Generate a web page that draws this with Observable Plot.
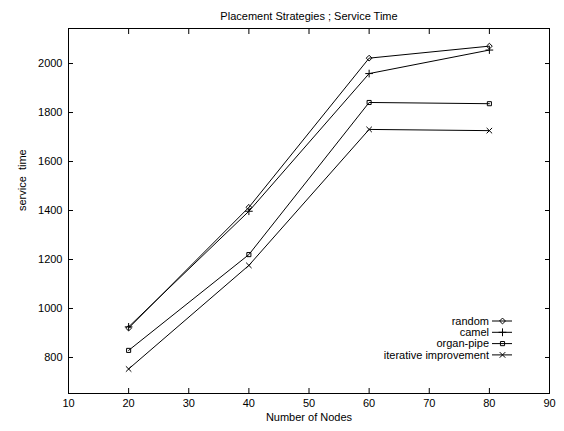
<!DOCTYPE html>
<html>
<head>
<meta charset="utf-8">
<script src="https://cdn.jsdelivr.net/npm/d3@7"></script>
<script src="https://cdn.jsdelivr.net/npm/@observablehq/plot@0.6"></script>
<style>
  html, body { margin: 0; padding: 0; background: #fff; }
</style>
</head>
<body>
<div id="chart"></div>
<script>
const nodes = [20, 40, 60, 80];
const seriesNames = ["random", "camel", "organ-pipe", "iterative improvement"];
const randomVals = [920, 1413, 2022, 2071];
const camelVals = [925, 1397, 1959, 2055];
const organPipeVals = [829, 1220, 1841, 1836];
const iterativeVals = [753, 1176, 1731, 1726];
const xTicks = [10, 20, 30, 40, 50, 60, 70, 80, 90];
const yTicks = [800, 1000, 1200, 1400, 1600, 1800, 2000];
const symbols = ["diamond2", "plus", "square2", "times"];
const titleText = "Placement Strategies ; Service Time";

const allVals = [randomVals, camelVals, organPipeVals, iterativeVals];
const data = [];
seriesNames.forEach((s, i) => nodes.forEach((n, j) => data.push({series: s, nodes: n, value: allVals[i][j]})));

const font = "'Liberation Sans', Arial, Helvetica, sans-serif";
const fmt = d3.format("d");

const plot = Plot.plot({
  width: 564,
  height: 431,
  marginLeft: 68,
  marginRight: 15,
  marginTop: 28,
  marginBottom: 38,
  style: {fontFamily: font, fontSize: "11px", color: "#000", background: "#fff", overflow: "visible"},
  x: {domain: [10, 90]},
  y: {domain: [653, 2143]},
  symbol: {domain: seriesNames, range: symbols},
  marks: [
    Plot.frame({stroke: "#000", strokeWidth: 1}),
    Plot.axisX({anchor: "bottom", ticks: xTicks, tickSize: -5, tickPadding: 11, tickFormat: fmt, label: null, fontSize: 11}),
    Plot.axisX({anchor: "top", ticks: xTicks, tickSize: -5, tickFormat: () => "", label: null}),
    Plot.axisY({anchor: "left", ticks: yTicks, tickSize: -5, tickPadding: 11, tickFormat: fmt, label: null, fontSize: 11}),
    Plot.axisY({anchor: "right", ticks: yTicks, tickSize: -5, tickFormat: () => "", label: null}),
    Plot.text(["Number of Nodes"], {frameAnchor: "bottom", dy: 27, fontSize: 11}),
    Plot.text(["service  time"], {frameAnchor: "left", dx: -46, rotate: -90, fontSize: 11}),
    Plot.text([titleText], {frameAnchor: "top", dy: -16, fontSize: 11}),
    Plot.line(data, {x: "nodes", y: "value", z: "series", stroke: "#000", strokeWidth: 1}),
    Plot.dot(data, {x: "nodes", y: "value", symbol: "series", stroke: "#000", fill: "none", r: 2.6, strokeWidth: 1})
  ]
});

document.getElementById("chart").appendChild(plot);

// Legend inside plot area
const svg = d3.select(plot);
const lg = svg.append("g").attr("font-family", font).attr("font-size", 11);
const symMap = {diamond2: d3.symbolDiamond2, plus: d3.symbolPlus, square2: d3.symbolSquare2, times: d3.symbolTimes};
seriesNames.forEach((s, i) => {
  const yy = 321 + i * 11.3;
  lg.append("text").attr("x", 489).attr("y", yy).attr("dy", "0.35em").attr("text-anchor", "end").text(s);
  lg.append("line").attr("x1", 492).attr("x2", 512).attr("y1", yy).attr("y2", yy).attr("stroke", "#000");
  lg.append("path").attr("transform", `translate(502.5,${yy})`)
    .attr("d", d3.symbol(symMap[symbols[i]], 22)())
    .attr("fill", "none").attr("stroke", "#000");
});
</script>
</body>
</html>
